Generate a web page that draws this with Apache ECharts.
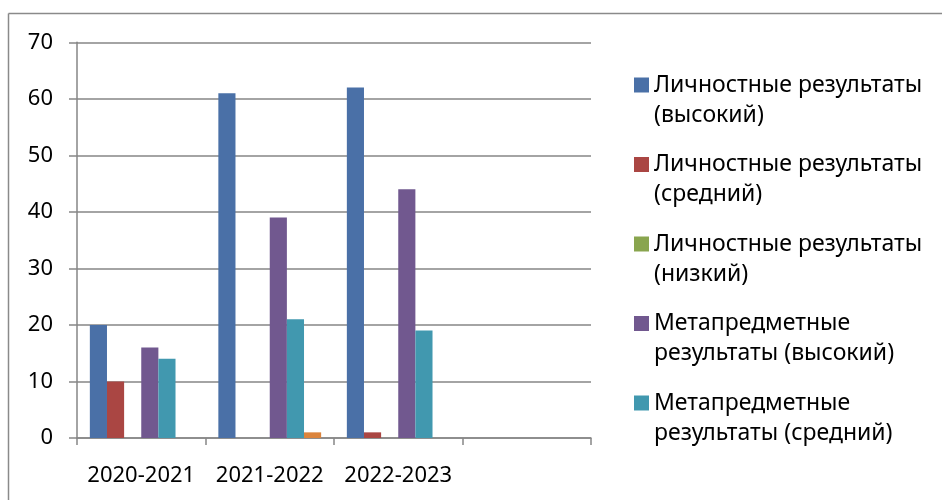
<!DOCTYPE html>
<html>
<head>
<meta charset="utf-8">
<script src="https://cdn.jsdelivr.net/npm/echarts@6/dist/echarts.min.js"></script>
<style>html,body{margin:0;padding:0;background:#fff;}#c{width:942px;height:500px;}</style>
</head>
<body>
<div id="c"></div>
<script>
var categories = ['2020-2021', '2021-2022', '2022-2023', ''];
var seriesNames = [
  'Личностные результаты (высокий)',
  'Личностные результаты (средний)',
  'Личностные результаты (низкий)',
  'Метапредметные результаты (высокий)',
  'Метапредметные результаты (средний)',
  'Метапредметные результаты (низкий)'
];
var legendLabels = {
  'Личностные результаты (высокий)': 'Личностные результаты\n(высокий)',
  'Личностные результаты (средний)': 'Личностные результаты\n(средний)',
  'Личностные результаты (низкий)': 'Личностные результаты\n(низкий)',
  'Метапредметные результаты (высокий)': 'Метапредметные\nрезультаты (высокий)',
  'Метапредметные результаты (средний)': 'Метапредметные\nрезультаты (средний)'
};
var personalHigh = [20, 61, 62, null];
var personalMid = [10, 0, 1, null];
var personalLow = [0, 0, 0, null];
var metaHigh = [16, 39, 44, null];
var metaMid = [14, 21, 19, null];
var metaLow = [0, 1, 0, null];
var yTicks = [0, 10, 20, 30, 40, 50, 60, 70];
var colors = ['#4A70A7', '#AA4643', '#89A54E', '#71588F', '#4198AF', '#DB843D'];

var FONT = 'Noto Sans';
var allData = [personalHigh, personalMid, personalLow, metaHigh, metaMid, metaLow];
var series = seriesNames.map(function (n, i) {
  return {
    name: n, type: 'bar', data: allData[i],
    barGap: '0%', barCategoryGap: '20%',
    itemStyle: { color: colors[i] },
    emphasis: { disabled: true }
  };
});

var chart = echarts.init(document.getElementById('c'), null, { renderer: 'canvas' });
chart.setOption({
  animation: false,
  color: colors,
  grid: { left: 77, right: 351, top: 42.3, bottom: 62, containLabel: false },
  xAxis: {
    type: 'category', data: categories,
    axisLine: { show: true, lineStyle: { color: '#868686', width: 1.5 } },
    axisTick: { show: true, length: 7, lineStyle: { color: '#868686', width: 1.5 } },
    axisLabel: { fontFamily: FONT, fontSize: 22, color: '#000', margin: 27, interval: 0 },
    splitLine: { show: false }
  },
  yAxis: {
    type: 'value', min: yTicks[0], max: yTicks[yTicks.length - 1], interval: 10,
    axisLine: { show: true, lineStyle: { color: '#868686', width: 1.5 } },
    axisTick: { show: true, length: 8, lineStyle: { color: '#868686', width: 1.5 } },
    axisLabel: { fontFamily: FONT, fontSize: 22, color: '#000', margin: 24 },
    splitLine: { show: true, lineStyle: { color: '#868686', width: 1.5 } }
  },
  legend: {
    orient: 'vertical', left: 634, top: 40, padding: 0,
    itemWidth: 15, itemHeight: 15, itemGap: -10.5,
    icon: 'rect',
    data: seriesNames.slice(0, 5),
    formatter: function (n) { return '\n' + (legendLabels[n] || n); },
    textStyle: { fontFamily: FONT, fontSize: 23, color: '#000', lineHeight: 30 }
  },
  graphic: [
    { type: 'line', shape: { x1: 8.5, y1: 13.5, x2: 942, y2: 13.5 }, style: { stroke: '#8a8a8a', lineWidth: 1.5 } },
    { type: 'line', shape: { x1: 8.5, y1: 13.5, x2: 8.5, y2: 500 }, style: { stroke: '#8a8a8a', lineWidth: 1.5 } }
  ],
  series: series
});
</script>
</body>
</html>
